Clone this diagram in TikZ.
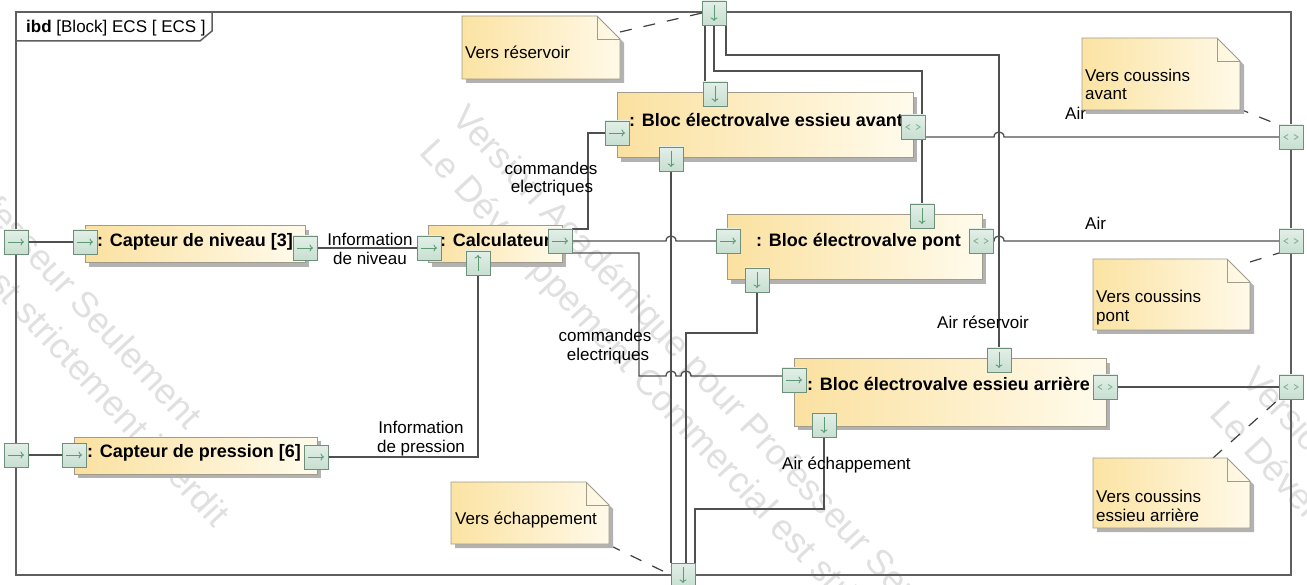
\documentclass[tikz,border=0pt]{standalone}
\usepackage{fontspec}
\setmainfont{Liberation Sans}
\usetikzlibrary{arrows.meta,shadows,calc}
\pgfdeclarelayer{wmark}
\pgfdeclarelayer{conn}
\pgfsetlayers{wmark,conn,main}
\definecolor{framec}{HTML}{5F5F5F}
\definecolor{linec}{HTML}{505050}
\definecolor{blkL}{HTML}{FBE1A0}
\definecolor{blkR}{HTML}{FFFBEC}
\definecolor{blkD}{HTML}{A09B8B}
\definecolor{shad}{HTML}{B2B2B2}
\definecolor{portT}{HTML}{E2EFE7}
\definecolor{portB}{HTML}{C8DFD1}
\definecolor{portD}{HTML}{6E907B}
\definecolor{portA}{HTML}{5B9A72}
\definecolor{noteL}{HTML}{FBE3A3}
\definecolor{noteR}{HTML}{FFF9E8}
\definecolor{wm}{HTML}{E0E0E0}
\newcommand{\umlnote}[5]{%
  \fill[shad] (#1+4,#2+4) -- (#3+4-23,#2+4) -- (#3+4,#2+27) -- (#3+4,#4+4) -- (#1+4,#4+4) -- cycle;
  \path[draw=blkD, line width=0.9pt, left color=noteL, right color=noteR] (#1,#2) -- (#3-23,#2) -- (#3,#2+23) -- (#3,#4) -- (#1,#4) -- cycle;
  \draw[blkD, line width=0.9pt] (#3-23,#2) -- (#3-23,#2+23) -- (#3,#2+23);
  \coordinate (#5) at (#1,#2);
}
\tikzset{
  frame/.style={draw=framec, line width=1.5pt},
  conn/.style={draw=linec, line width=1.3pt},
  noteconn/.style={draw=black!75, line width=1.2pt, dash pattern=on 12pt off 12pt},
  block/.style={rectangle, draw=blkD, line width=1pt, left color=blkL, right color=blkR, inner sep=0pt, outer sep=0pt,
    drop shadow={shadow xshift=4pt, shadow yshift=-4pt, fill=shad, opacity=1}},
  ttl/.style={anchor=base west, inner sep=0pt, font=\fontsize{18}{20}\selectfont\bfseries},
  lbl/.style={inner sep=0pt, font=\fontsize{17}{19}\selectfont},
  wmk/.style={anchor=base west, inner sep=0pt, rotate=-47, text=wm, font=\fontsize{36}{40}\selectfont},
  port/.style={rectangle, draw=portD, line width=0.8pt, top color=portT, bottom color=portB, minimum size=24pt, inner sep=0pt, outer sep=0pt},
  parrow/.style={draw=portA, line width=0.9pt, -{To[length=3.5pt,width=7pt]}},
  pR/.style={port, path picture={\draw[parrow] ([xshift=-8pt]path picture bounding box.center) -- ([xshift=8pt]path picture bounding box.center);}},
  pD/.style={port, path picture={\draw[parrow] ([yshift=8pt]path picture bounding box.center) -- ([yshift=-8pt]path picture bounding box.center);}},
  pU/.style={port, path picture={\draw[parrow] ([yshift=-8pt]path picture bounding box.center) -- ([yshift=8pt]path picture bounding box.center);}},
  pB/.style={port, path picture={
    \draw[portA!75, line width=0.9pt] ([shift={(-3pt,2.5pt)}]path picture bounding box.center) -- ([shift={(-7pt,0pt)}]path picture bounding box.center) -- ([shift={(-3pt,-2.5pt)}]path picture bounding box.center);
    \draw[portA!75, line width=0.9pt] ([shift={(3pt,2.5pt)}]path picture bounding box.center) -- ([shift={(7pt,0pt)}]path picture bounding box.center) -- ([shift={(3pt,-2.5pt)}]path picture bounding box.center);}}
}
\begin{document}
\begin{tikzpicture}[x=1pt,y=-1pt,font=\fontsize{17}{19}\selectfont]
\useasboundingbox (0,0) rectangle (1307,585);
% ---------- watermark ----------
\begin{pgfonlayer}{wmark}
\fill[white] (0,0) rectangle (1307,585);
\begin{scope}
\clip (0,0) rectangle (1307,585);
\node[wmk] (wa1) at (-345,-139) {Version Académique pour Professeur Seulement};
\node[wmk] (wb1) at (-377,-105) {Le Développement Commercial est strictement interdit};
\node[wmk] (wa2) at (450,119) {Version Académique pour Professeur Seulement};
\node[wmk] (wb2) at (418,153) {Le Développement Commercial est strictement interdit};
\node[wmk] (wa3) at (1240,381) {Version Académique pour Professeur Seulement};
\node[wmk] (wb3) at (1208,415) {Le Développement Commercial est strictement interdit};
\end{scope}
\end{pgfonlayer}

% ---------- blocks ----------
\node[block, minimum width=220pt, minimum height=37pt] (CN) at (195,244.5) {};
\node[block, minimum width=243pt, minimum height=37pt] (CP) at (195.5,455.5) {};
\node[block, minimum width=134pt, minimum height=37pt] (CALC) at (495,244.5) {};
\node[block, minimum width=296pt, minimum height=65pt] (AV) at (765,125.5) {};
\node[block, minimum width=255pt, minimum height=65pt] (PT) at (854.5,247.5) {};
\node[block, minimum width=312pt, minimum height=67pt] (AR) at (950,392.5) {};

\node[ttl] (CNt) at (97,247) {: Capteur de niveau [3]};
\node[ttl] (CPt) at (87,457) {: Capteur de pression [6]};
\node[ttl] (CALCt) at (440,247) {: Calculateur};
\node[ttl] (AVt) at (629,127) {: Bloc électrovalve essieu avant};
\node[ttl] (PTt) at (756,247) {: Bloc électrovalve pont};
\node[ttl] (ARt) at (807,390) {: Bloc électrovalve essieu arrière};

% ---------- labels ----------
\node[lbl, anchor=base] (l1a) at (370,246) {Information};
\node[lbl, anchor=base] (l1b) at (370,265) {de niveau};
\node[lbl, anchor=base] (l2a) at (421,433) {Information};
\node[lbl, anchor=base] (l2b) at (421,452) {de pression};
\node[lbl, anchor=base] (l3a) at (551,175) {commandes};
\node[lbl, anchor=base] (l3b) at (552,193) {electriques};
\node[lbl, anchor=base] (l4a) at (605,342) {commandes};
\node[lbl, anchor=base] (l4b) at (608,360) {electriques};
\node[lbl, anchor=base west] (l5) at (1065,120) {Air};
\node[lbl, anchor=base west] (l6) at (1085,230) {Air};
\node[lbl, anchor=base west] (l7) at (937,329) {Air réservoir};
\node[lbl, anchor=base west] (l8) at (782,469) {Air échappement};

% ---------- notes ----------
\umlnote{462}{16}{620}{79}{N1}
\node[lbl, anchor=base west] (N1t) at (465,59) {Vers réservoir};
\umlnote{1082}{38}{1240}{110}{N2}
\node[lbl, anchor=base west] (N2t) at (1085,82) {Vers coussins};
\node[lbl, anchor=base west] (N2u) at (1085,100) {avant};
\umlnote{1093}{259}{1250}{330}{N3}
\node[lbl, anchor=base west] (N3t) at (1096,303) {Vers coussins};
\node[lbl, anchor=base west] (N3u) at (1096,322) {pont};
\umlnote{1093}{458}{1250}{528}{N4}
\node[lbl, anchor=base west] (N4t) at (1096,502) {Vers coussins};
\node[lbl, anchor=base west] (N4u) at (1096,521) {essieu arrière};
\umlnote{451}{482}{609}{544}{N5}
\node[lbl, anchor=base west] (N5t) at (455,524) {Vers échappement};
\coordinate (n1c) at (620,32);
\coordinate (n2c) at (1237,108);
\coordinate (n3c) at (1250,262);
\coordinate (n4c) at (1213,458);
\coordinate (n5c) at (609,545);

% ---------- ports ----------
\node[pR] (lp1) at (16,242) {};
\node[pR] (lp2) at (16,455) {};
\node[pD] (tp) at (714,13) {};
\node[pD] (bp) at (683,575) {};
\node[pB] (rp1) at (1291,137) {};
\node[pB] (rp2) at (1291,241) {};
\node[pB] (rp3) at (1291,387) {};
\node[pR] (cnin) at (85,242) {};
\node[pR] (cnout) at (305,248) {};
\node[pR] (prin) at (74,455) {};
\node[pR] (prout) at (316,457) {};
\node[pR] (calcin) at (429,248) {};
\node[pR] (calcout) at (560,241) {};
\node[pU] (calcbot) at (478,263) {};
\node[pD] (avtop) at (715,94) {};
\node[pR] (avin) at (617,133) {};
\node[pD] (avbot) at (671,159) {};
\node[pB] (avright) at (913,127) {};
\node[pD] (pttop) at (922,216) {};
\node[pR] (ptin) at (728,241) {};
\node[pD] (ptbot) at (757,280) {};
\node[pB] (ptright) at (981,241) {};
\node[pD] (artop) at (999,360) {};
\node[pR] (arin) at (794,380) {};
\node[pD] (arbot) at (824,425) {};
\node[pB] (arright) at (1105,387) {};

% ---------- frame and connectors ----------
\begin{pgfonlayer}{conn}
\draw[frame] (16,12) rectangle (1291,575);
\draw[frame] (16,41) -- (200,41) -- (212,31) -- (212,12);
\node[lbl, anchor=base west] (ftitle) at (26,33) {\textbf{ibd} [Block] ECS [ ECS ]};

\draw[conn] (lp1.center) -- (cnin.center);
\draw[conn] (lp2.center) -- (prin.center);
\draw[conn] (cnout.center) -- (calcin.center);
\draw[conn] (prout.center) -| (calcbot.center);
\draw[conn] (calcout.north east) -- ++(16,0) |- (avin.center);
\draw[conn] (calcout.center) -- (666,241) .. controls (666,234.3) and (676,234.3) .. (676,241) -- (ptin.center);
\draw[conn] (calcout.south east) -- (639,253) -- (639,376) -- (666,376)
   .. controls (666,369.3) and (676,369.3) .. (676,376) -- (681,376)
   .. controls (681,369.3) and (691,369.3) .. (691,376) -- (arin.west |- 0,376);
\draw[conn] (avbot.center) -- (bp.north west);
\draw[conn] (ptbot.center) -- ++(0,53) -| ([xshift=3pt]bp.north);
\draw[conn] (arbot.center) -- ++(0,84) -| (bp.north east);
\draw[conn] ([xshift=3pt]tp.south west) -- ([xshift=2pt]avtop.north west);
\draw[conn] (tp.south) -- ++(0,46) -| (pttop.center);
\draw[conn] (tp.south east) -- ++(0,30) -| (artop.center);
\draw[conn] ([yshift=-10pt]avright.center) -- (994,137) .. controls (994,130.3) and (1004,130.3) .. (1004,137) -- (rp1.center);
\draw[conn] (ptright.center) -- (994,241) .. controls (994,234.3) and (1004,234.3) .. (1004,241) -- (rp2.center);
\draw[conn] (arright.center) -- (rp3.center);

\draw[noteconn] (n1c) -- (tp.west);
\draw[noteconn] (n2c) -- (rp1.north west);
\draw[noteconn] (n3c) -- (rp2.south west);
\draw[noteconn] (n4c) -- (rp3.south west);
\draw[noteconn] (n5c) -- (bp.west);
\end{pgfonlayer}
\end{tikzpicture}
\end{document}
